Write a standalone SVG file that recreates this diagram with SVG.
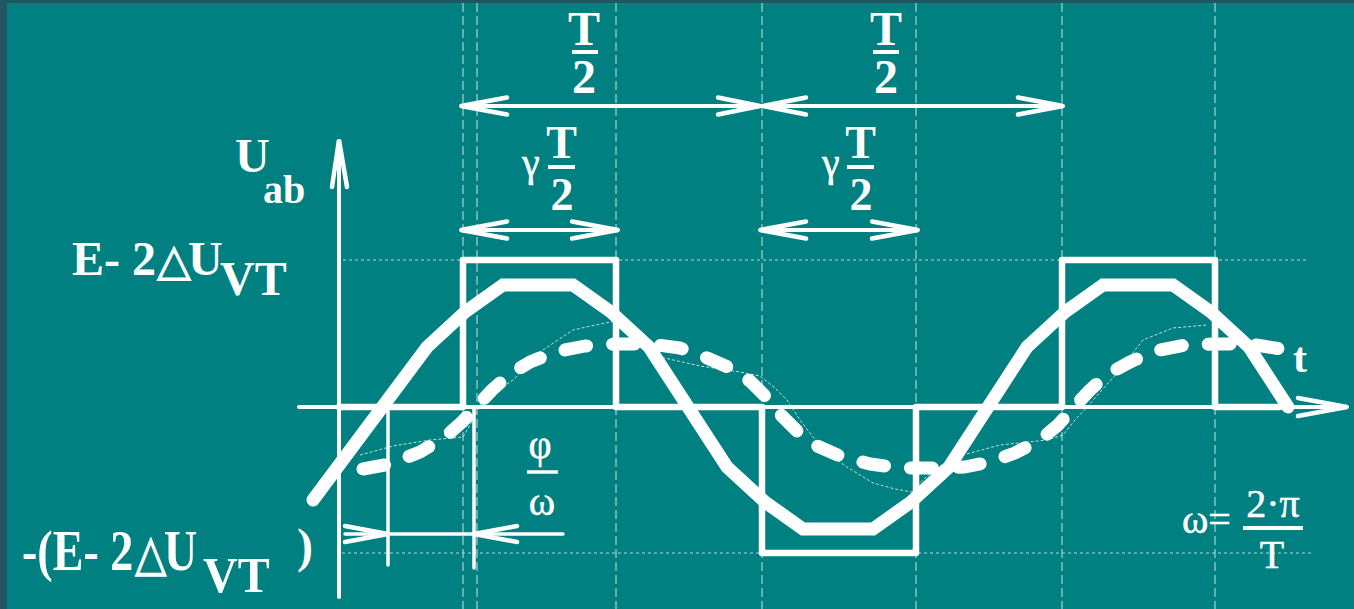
<svg xmlns="http://www.w3.org/2000/svg" width="1354" height="609" viewBox="0 0 1354 609">
<style>
.grid{stroke:#b4d9d9;stroke-width:1.1;stroke-dasharray:9 4;fill:none}
.dot{stroke:#b4d9d9;stroke-width:1;stroke-dasharray:3 3;fill:none}
.ln{stroke:#fff;stroke-width:4;fill:none;stroke-linecap:round;stroke-linejoin:round}
.head{stroke:#fff;stroke-width:4.5;fill:none;stroke-linecap:round;stroke-linejoin:miter}
.thin{stroke:#fff;stroke-width:3.5;fill:none;stroke-linecap:round}
.bar{stroke:#fff;stroke-width:4;fill:none}
.sq{stroke:#fff;stroke-width:6.5;fill:none;stroke-linejoin:round;stroke-linecap:round}
.sine{stroke:#fff;stroke-width:13;fill:none;stroke-linecap:round;stroke-linejoin:miter}
.lag{stroke:#fff;stroke-width:13;fill:none;stroke-linecap:round;stroke-linejoin:round;stroke-dasharray:22 26}
.faint{stroke:#bfe0e0;stroke-width:1;fill:none;stroke-dasharray:3 2}
.tb{font-family:'Liberation Serif','Times New Roman',serif;font-weight:bold;fill:#fff}
.tr{font-family:'Liberation Serif','Times New Roman',serif;font-weight:normal;fill:#fff;stroke:#fff;stroke-width:0.5}
.tri{font-family:'DejaVu Sans',sans-serif;font-weight:normal;stroke:#fff;stroke-width:1}
</style>
<g id="background">
<rect x="0" y="0" width="1354" height="609" fill="#1f5660"/>
<rect x="7" y="3" width="1347" height="606" fill="#008080"/>
</g>
<g id="grid">
<line class="grid" x1="463" y1="3" x2="463" y2="609"/>
<line class="grid" x1="477" y1="3" x2="477" y2="609"/>
<line class="grid" x1="616" y1="3" x2="616" y2="609"/>
<line class="grid" x1="762" y1="3" x2="762" y2="609"/>
<line class="grid" x1="916" y1="3" x2="916" y2="609"/>
<line class="grid" x1="1062" y1="3" x2="1062" y2="609"/>
<line class="grid" x1="1215" y1="3" x2="1215" y2="609"/>
<line class="dot" x1="343" y1="260" x2="1307" y2="260"/>
<line class="dot" x1="342" y1="553" x2="1311" y2="553"/>
</g>
<g id="faint-curve">
<path class="faint" d="M360,455 L393,446 L430,440 L463,437 L470,425 L480,405 L495,392 L513,380 L540,352 L573,330 L600,324 L616,321 L630,335 L645,350 L660,357 L700,366 L740,372 L760,376 L775,388 L787,400 L800,420 L813,437 L830,455 L847,467 L873,483 L895,489 L912,492 L925,478 L940,466 L963,455 L1000,445 L1047,440 L1063,435 L1075,420 L1087,407 L1117,373 L1143,340 L1173,328 L1207,325"/>
</g>
<g id="axes">
<line class="ln" x1="299" y1="407" x2="1347" y2="407"/>
<polyline class="head" points="1298,398 1347,407 1298,416"/>
<line class="ln" x1="339" y1="597" x2="339" y2="141"/>
<polyline class="head" points="332,187 339,140 347,187"/>
</g>
<g id="square-wave">
<path class="sq" d="M339,407 H463 V260 H616 V407 H762 V553 H916 V407 H1062 V260 H1215 V407 H1280"/>
</g>
<g id="sine-wave">
<path class="sine" d="M313,500 L427,347 L465,312 L503,285 L573,285 L611,312 L649,347 L727,467 L765,502 L803,529 L873,529 L911,502 L949,467 L1027,347 L1065,312 L1103,285 L1173,285 L1211,312 L1249,347 L1288,407"/>
</g>
<g id="lagging-wave">
<path class="lag" d="M363,469 L390,464 L420,452 L445,437 L462,422 L478,405 L492,390 L510,374 L530,362 L555,352 L585,346 L615,344 L650,344 L680,348 L705,357 L730,368 L750,381 L765,396 L780,414 L797,431 L815,445 L840,456 L870,464 L900,468 L935,468 L965,467 L990,462 L1015,453 L1040,440 L1058,425 L1074,407 L1090,390 L1108,374 L1130,362 L1155,351 L1185,345 L1215,344 L1250,344 L1287,350"/>
</g>
<g id="connectors">
<line class="ln" x1="461" y1="106" x2="1063" y2="106"/>
<polyline class="head" points="507,97.5 461,106 507,114.5"/>
<polyline class="head" points="718,97.5 760,106 718,114.5"/>
<polyline class="head" points="806,97.5 763,106 806,114.5"/>
<polyline class="head" points="1018,97.5 1063,106 1018,114.5"/>
<line class="ln" x1="461" y1="230" x2="618" y2="230"/>
<polyline class="head" points="507,221.5 461,230 507,238.5"/>
<polyline class="head" points="572,221.5 618,230 572,238.5"/>
<line class="ln" x1="760" y1="230" x2="918" y2="230"/>
<polyline class="head" points="806,221.5 760,230 806,238.5"/>
<polyline class="head" points="872,221.5 918,230 872,238.5"/>
<line class="thin" x1="388" y1="407" x2="388" y2="565"/>
<line class="thin" x1="474" y1="407" x2="474" y2="568"/>
<line class="thin" x1="345" y1="534" x2="563" y2="534"/>
<polyline class="head" points="345,526 388,534 345,542"/>
<polyline class="head" points="517,526 474,534 517,542"/>
</g>
<g id="label-T2-a">
<text class="tb" font-size="48" x="584" y="45" text-anchor="middle">T</text>
<line class="bar" x1="572" y1="52" x2="598" y2="52"/>
<text class="tb" font-size="48" x="584" y="93" text-anchor="middle">2</text>
</g>
<g id="label-T2-b">
<text class="tb" font-size="48" x="886" y="45" text-anchor="middle">T</text>
<line class="bar" x1="873" y1="52" x2="899" y2="52"/>
<text class="tb" font-size="48" x="886" y="93" text-anchor="middle">2</text>
</g>
<g id="label-gT2-a">
<text class="tr" font-size="40" x="522" y="176">γ</text>
<text class="tb" font-size="46" x="561.5" y="158" text-anchor="middle">T</text>
<line class="bar" x1="548" y1="167" x2="575" y2="167"/>
<text class="tb" font-size="46" x="562" y="210" text-anchor="middle">2</text>
</g>
<g id="label-gT2-b">
<text class="tr" font-size="40" x="822" y="176">γ</text>
<text class="tb" font-size="46" x="860.5" y="158" text-anchor="middle">T</text>
<line class="bar" x1="847" y1="167" x2="874" y2="167"/>
<text class="tb" font-size="46" x="861" y="210" text-anchor="middle">2</text>
</g>
<g id="label-Uab">
<text class="tb" font-size="48" x="235" y="172">U</text>
<text class="tb" font-size="40" x="263" y="203">ab</text>
</g>
<g id="label-Emax">
<text class="tb" font-size="48" y="275"><tspan x="72">E- 2</tspan><tspan class="tri" x="157" font-size="44">△</tspan><tspan x="188">U</tspan></text>
<text class="tb" font-size="48" x="220" y="295">VT</text>
</g>
<g id="label-Emin">
<g transform="translate(22,570) scale(0.96,1.19)">
<text class="tb" font-size="48" y="0"><tspan x="0">-(E- 2</tspan><tspan class="tri" x="118" font-size="42">△</tspan><tspan x="148">U</tspan></text>
</g>
<text class="tb" font-size="48" transform="translate(203,592) scale(1,1.06)" x="0" y="0">VT</text>
<text class="tb" font-size="48" x="297" y="562">)</text>
</g>
<g id="label-phi">
<text class="tr" font-size="40" x="540" y="458" text-anchor="middle">φ</text>
<line class="thin" x1="527" y1="472" x2="558" y2="472" style="stroke-linecap:butt"/>
<text class="tr" font-size="40" x="542" y="515" text-anchor="middle">ω</text>
</g>
<g id="label-t">
<text class="tb" font-size="42" x="1293" y="372">t</text>
</g>
<g id="label-omega">
<text class="tr" font-size="40" x="1182" y="533">ω=</text>
<text class="tr" font-size="40" x="1273" y="517" text-anchor="middle">2·π</text>
<line class="bar" x1="1243" y1="528" x2="1303" y2="528"/>
<text class="tr" font-size="40" x="1272" y="568" text-anchor="middle">T</text>
</g>
</svg>
